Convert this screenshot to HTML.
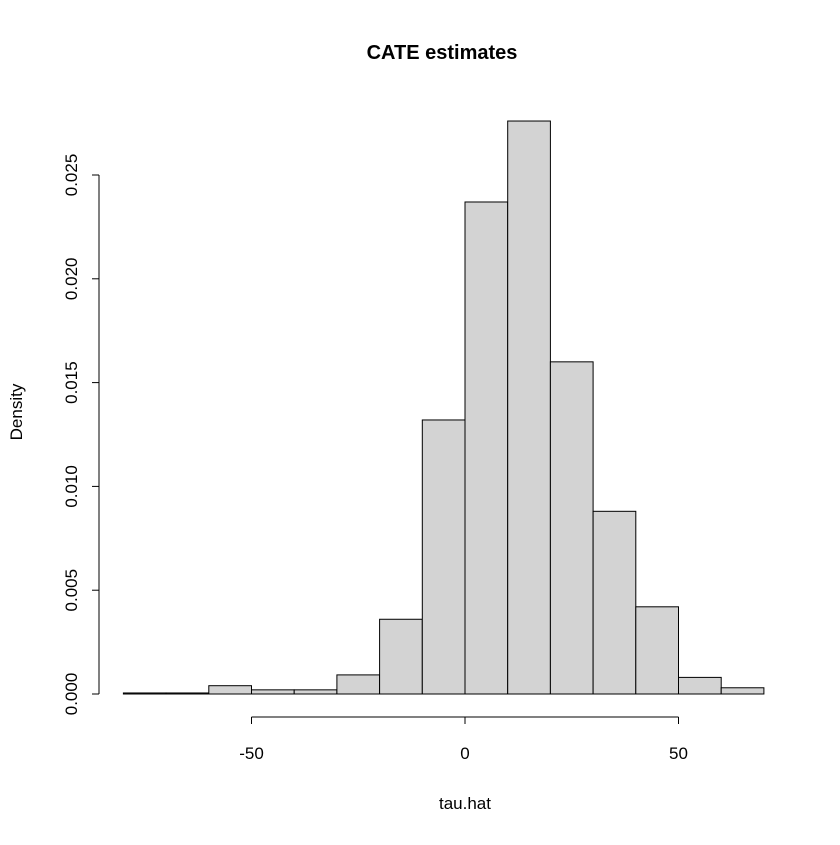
<!DOCTYPE html>
<html><head><meta charset="utf-8"><style>
body{margin:0;background:#fff}
svg text{font-family:"Liberation Sans",Arial,sans-serif;fill:#000}
</style></head><body>
<svg id="chart" width="840" height="840" viewBox="0 0 840 840">
<rect width="840" height="840" fill="#fff"/>
<text x="442" y="59" font-size="20" font-weight="bold" text-anchor="middle">CATE estimates</text>
<text x="465" y="809" font-size="17" text-anchor="middle">tau.hat</text>
<text transform="translate(22,412) rotate(-90)" font-size="17" text-anchor="middle">Density</text>
<g id="bars"></g>
<g id="xaxis"></g>
<g id="yaxis"></g>
</svg>
<script>
const binStarts=[-80,-70,-60,-50,-40,-30,-20,-10,0,10,20,30,40,50,60];
const binWidth=10;
const densities=[0.00005,0.00005,0.0004,0.0002,0.0002,0.00092,0.0036,0.0132,0.0237,0.0276,0.016,0.0088,0.0042,0.0008,0.0003];
const xTicks=[-50,0,50];
const yTicks=[0,0.005,0.010,0.015,0.020,0.025];
const yTickLabels=["0.000","0.005","0.010","0.015","0.020","0.025"];
const NS="http://www.w3.org/2000/svg";
const xs=v=>465+v*4.27;
const ys=v=>694-v*20760;
const bars=document.getElementById('bars');
binStarts.forEach((b,i)=>{
  const r=document.createElementNS(NS,'rect');
  
  
  const x0=xs(b),x1=xs(b+binWidth),y=ys(densities[i]);
  r.setAttribute('x',x0);r.setAttribute('width',x1-x0);
  r.setAttribute('y',y);r.setAttribute('height',Math.max(0,694-y));
  r.setAttribute('fill','#d3d3d3');r.setAttribute('stroke','#000');r.setAttribute('stroke-width','1');
  bars.appendChild(r);
});
const xa=document.getElementById('xaxis');
const xl=document.createElementNS(NS,'line');


xl.setAttribute('x1',xs(xTicks[0]));xl.setAttribute('x2',xs(xTicks[xTicks.length-1]));
xl.setAttribute('y1',717);xl.setAttribute('y2',717);xl.setAttribute('stroke','#000');
xa.appendChild(xl);
xTicks.forEach(t=>{
  const l=document.createElementNS(NS,'line');
  
  
  l.setAttribute('x1',xs(t));l.setAttribute('x2',xs(t));l.setAttribute('y1',717);l.setAttribute('y2',724);l.setAttribute('stroke','#000');
  xa.appendChild(l);
  const tx=document.createElementNS(NS,'text');
  
  
  tx.setAttribute('x',xs(t));tx.setAttribute('y',759);tx.setAttribute('font-size','17');tx.setAttribute('text-anchor','middle');
  tx.textContent=t;xa.appendChild(tx);
});
const ya=document.getElementById('yaxis');
const yl=document.createElementNS(NS,'line');


yl.setAttribute('x1',99);yl.setAttribute('x2',99);yl.setAttribute('y1',ys(yTicks[0]));yl.setAttribute('y2',ys(yTicks[yTicks.length-1]));yl.setAttribute('stroke','#000');
ya.appendChild(yl);
yTicks.forEach((t,i)=>{
  const l=document.createElementNS(NS,'line');
  
  
  l.setAttribute('x1',92);l.setAttribute('x2',99);l.setAttribute('y1',ys(t));l.setAttribute('y2',ys(t));l.setAttribute('stroke','#000');
  ya.appendChild(l);
  const tx=document.createElementNS(NS,'text');
  
  
  tx.setAttribute('transform','translate(77,'+ys(t)+') rotate(-90)');
  tx.setAttribute('font-size','17');tx.setAttribute('text-anchor','middle');
  tx.textContent=yTickLabels[i];ya.appendChild(tx);
});
</script>
</body></html>
